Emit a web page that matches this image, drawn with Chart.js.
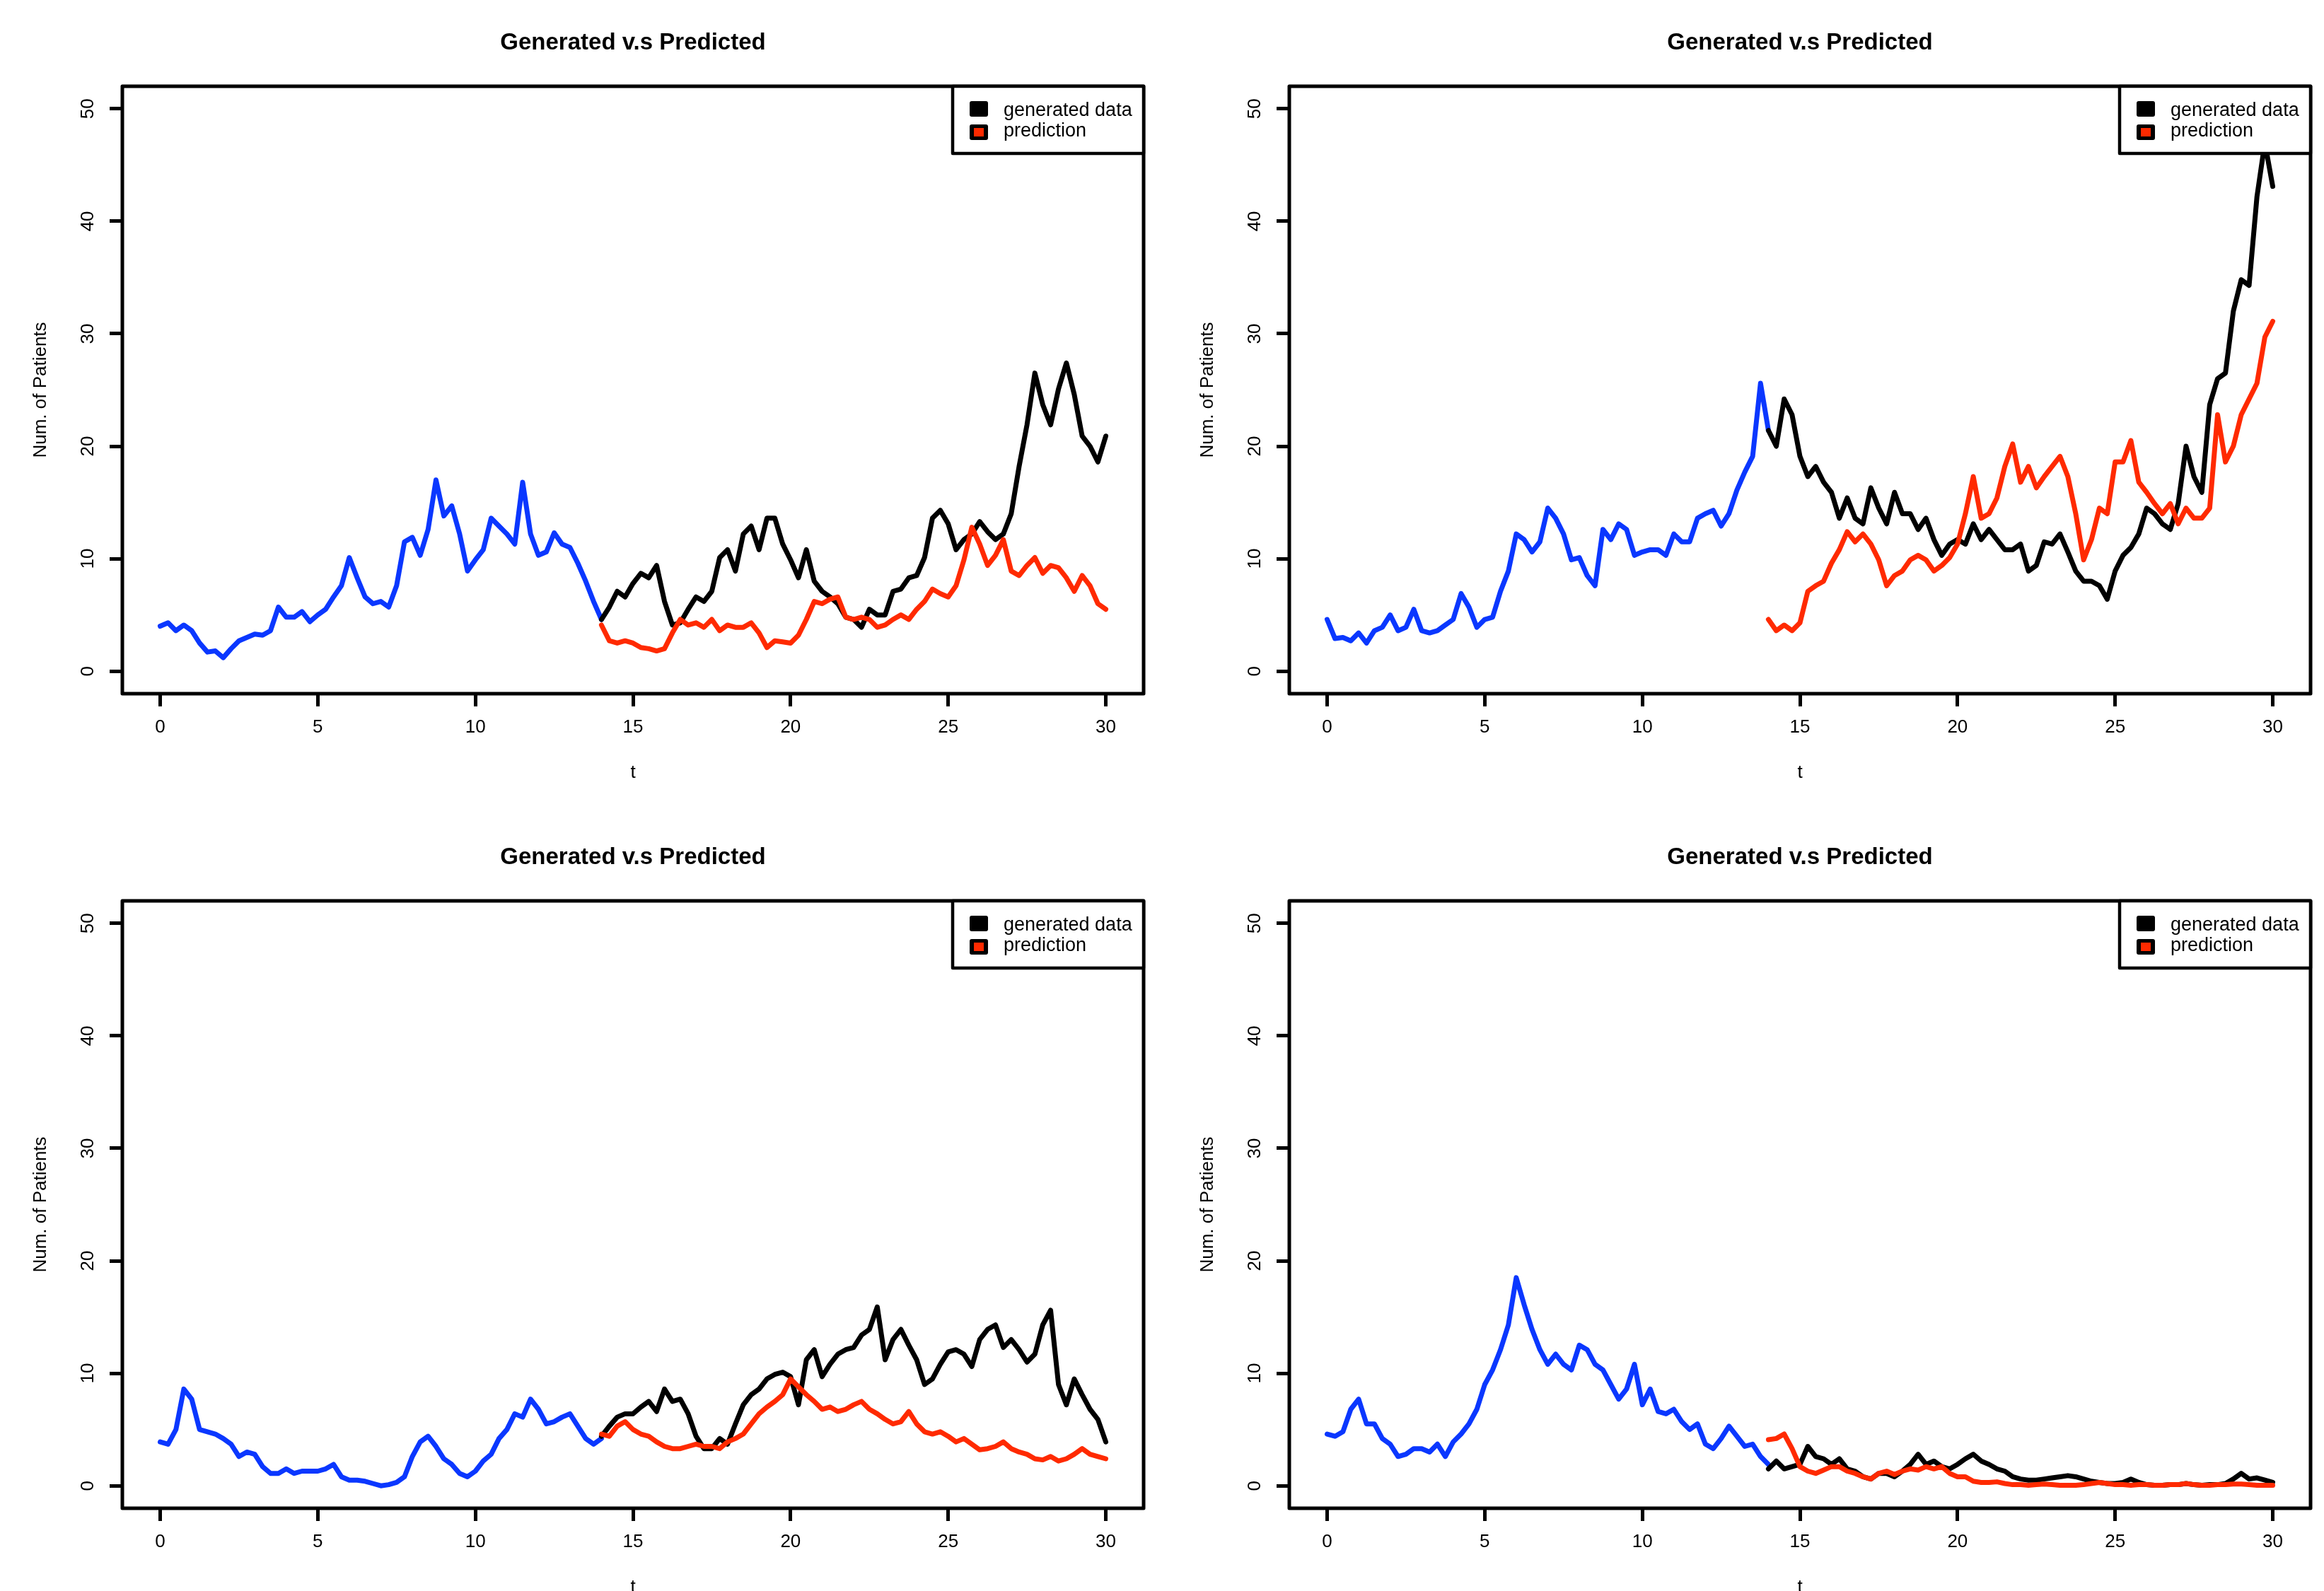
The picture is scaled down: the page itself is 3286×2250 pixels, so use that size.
<!DOCTYPE html>
<html>
<head>
<meta charset="utf-8">
<title>Generated v.s Predicted</title>
<script src="https://cdn.jsdelivr.net/npm/chart.js@4.4.1/dist/chart.umd.min.js"></script>
<style>
    html, body { margin: 0; padding: 0; background: #fff; overflow: hidden; }
    #page { position: relative; width: 3286px; height: 2250px; overflow: hidden; background: #fff; }
    .panel { position: absolute; width: 1650px; height: 1152px; }
</style>
</head>
<body>
<div id="page">
    <div class="panel" style="left:0;top:0"><canvas id="chart1" width="1650" height="1152"></canvas></div>
    <div class="panel" style="left:1650px;top:0"><canvas id="chart2" width="1650" height="1152"></canvas></div>
    <div class="panel" style="left:0;top:1152px"><canvas id="chart3" width="1650" height="1152"></canvas></div>
    <div class="panel" style="left:1650px;top:1152px"><canvas id="chart4" width="1650" height="1152"></canvas></div>
</div>
<script>
const X_TICKS = [0, 5, 10, 15, 20, 25, 30];
const Y_TICKS = [0, 10, 20, 30, 40, 50];

// observed part (t = 0..14) and forecast part (t = 14..30)
const T_OBS = [0, 0.25, 0.5, 0.75, 1, 1.25, 1.5, 1.75, 2, 2.25, 2.5, 2.75, 3, 3.25, 3.5, 3.75,
    4, 4.25, 4.5, 4.75, 5, 5.25, 5.5, 5.75, 6, 6.25, 6.5, 6.75, 7, 7.25, 7.5, 7.75,
    8, 8.25, 8.5, 8.75, 9, 9.25, 9.5, 9.75, 10, 10.25, 10.5, 10.75, 11, 11.25, 11.5, 11.75,
    12, 12.25, 12.5, 12.75, 13, 13.25, 13.5, 13.75, 14];
const T_PRED = [14, 14.25, 14.5, 14.75, 15, 15.25, 15.5, 15.75, 16, 16.25, 16.5, 16.75,
    17, 17.25, 17.5, 17.75, 18, 18.25, 18.5, 18.75, 19, 19.25, 19.5, 19.75,
    20, 20.25, 20.5, 20.75, 21, 21.25, 21.5, 21.75, 22, 22.25, 22.5, 22.75,
    23, 23.25, 23.5, 23.75, 24, 24.25, 24.5, 24.75, 25, 25.25, 25.5, 25.75,
    26, 26.25, 26.5, 26.75, 27, 27.25, 27.5, 27.75, 28, 28.25, 28.5, 28.75,
    29, 29.25, 29.5, 29.75, 30];

const p1Obs = [4.0, 4.3, 3.6, 4.1, 3.6, 2.5, 1.7, 1.8, 1.2, 2.0, 2.7, 3.0, 3.3, 3.2, 3.6, 5.7,
    4.8, 4.8, 5.3, 4.4, 5.0, 5.5, 6.6, 7.6, 10.1, 8.3, 6.6, 6.0, 6.2, 5.7, 7.6, 11.5,
    11.9, 10.3, 12.6, 17.0, 13.8, 14.7, 12.2, 8.9, 9.9, 10.8, 13.6, 12.9, 12.2, 11.3, 16.8, 12.2,
    10.3, 10.6, 12.3, 11.3, 11.0, 9.6, 8.0, 6.2, 4.6];
const p1Gen = [4.6, 5.7, 7.1, 6.6, 7.8, 8.7, 8.3, 9.4, 6.2, 4.1, 4.3, 5.5, 6.6, 6.2, 7.1, 10.1,
    10.8, 8.9, 12.2, 12.9, 10.8, 13.6, 13.6, 11.3, 9.9, 8.3, 10.8, 8.0, 7.1, 6.6, 6.0, 4.8,
    4.6, 3.9, 5.5, 5.0, 5.0, 7.1, 7.3, 8.3, 8.5, 10.1, 13.6, 14.3, 13.1, 10.8, 11.7, 12.2,
    13.3, 12.4, 11.7, 12.2, 14.0, 18.2, 21.9, 26.5, 23.7, 21.9, 25.1, 27.4, 24.6, 20.9, 20.0, 18.6, 20.9];
const p1Pred = [4.1, 2.7, 2.5, 2.7, 2.5, 2.1, 2.0, 1.8, 2.0, 3.4, 4.6, 4.1, 4.3, 3.9, 4.6, 3.6,
    4.1, 3.9, 3.9, 4.3, 3.4, 2.1, 2.7, 2.6, 2.5, 3.2, 4.6, 6.2, 6.0, 6.4, 6.6, 4.8,
    4.6, 4.8, 4.6, 3.9, 4.1, 4.6, 5.0, 4.6, 5.5, 6.2, 7.3, 6.9, 6.6, 7.6, 9.9, 12.8,
    11.3, 9.4, 10.3, 11.7, 8.9, 8.5, 9.4, 10.1, 8.7, 9.4, 9.2, 8.3, 7.1, 8.5, 7.6, 6.0, 5.5];

const p2Obs = [4.6, 2.9, 3.0, 2.7, 3.4, 2.5, 3.6, 3.9, 5.0, 3.6, 3.9, 5.5, 3.6, 3.4, 3.6, 4.1,
    4.6, 6.9, 5.7, 3.9, 4.6, 4.8, 7.1, 8.9, 12.2, 11.7, 10.6, 11.5, 14.5, 13.6, 12.2, 9.9,
    10.1, 8.5, 7.6, 12.6, 11.7, 13.1, 12.6, 10.3, 10.6, 10.8, 10.8, 10.3, 12.2, 11.5, 11.5, 13.6,
    14.0, 14.3, 12.9, 14.0, 16.1, 17.7, 19.1, 25.6, 21.4];
const p2Gen = [21.4, 20.0, 24.2, 22.8, 19.1, 17.3, 18.2, 16.8, 15.9, 13.6, 15.4, 13.6, 13.1, 16.3, 14.5, 13.1,
    15.9, 14.0, 14.0, 12.6, 13.6, 11.7, 10.3, 11.3, 11.7, 11.3, 13.1, 11.7, 12.6, 11.7, 10.8, 10.8,
    11.3, 8.9, 9.4, 11.5, 11.3, 12.2, 10.6, 8.9, 8.0, 8.0, 7.6, 6.4, 8.9, 10.3, 11.0, 12.2,
    14.5, 14.0, 13.1, 12.6, 14.9, 20.0, 17.3, 15.9, 23.7, 26.0, 26.5, 32.0, 34.8, 34.3, 42.2, 47.0, 43.1];
const p2Pred = [4.6, 3.6, 4.1, 3.6, 4.3, 7.1, 7.6, 8.0, 9.6, 10.8, 12.4, 11.5, 12.2, 11.3, 9.9, 7.6,
    8.5, 8.9, 9.9, 10.3, 9.9, 8.9, 9.4, 10.1, 11.3, 14.0, 17.3, 13.6, 14.0, 15.4, 18.2, 20.2,
    16.8, 18.2, 16.3, 17.3, 18.2, 19.1, 17.3, 14.0, 9.9, 11.7, 14.5, 14.0, 18.6, 18.6, 20.5, 16.8,
    15.9, 14.9, 14.0, 14.9, 13.1, 14.5, 13.6, 13.6, 14.5, 22.8, 18.6, 20.0, 22.8, 24.2, 25.6, 29.7, 31.1];

const p3Obs = [3.9, 3.7, 5.0, 8.6, 7.7, 5.0, 4.8, 4.6, 4.2, 3.7, 2.6, 3.0, 2.8, 1.7, 1.1, 1.1,
    1.5, 1.1, 1.3, 1.3, 1.3, 1.5, 1.9, 0.8, 0.5, 0.5, 0.4, 0.2, 0.0, 0.1, 0.3, 0.8,
    2.6, 3.9, 4.4, 3.5, 2.4, 1.9, 1.1, 0.8, 1.3, 2.2, 2.8, 4.2, 5.0, 6.4, 6.1, 7.7,
    6.8, 5.5, 5.7, 6.1, 6.4, 5.3, 4.2, 3.7, 4.2];
const p3Gen = [4.4, 5.3, 6.1, 6.4, 6.4, 7.0, 7.5, 6.6, 8.6, 7.5, 7.7, 6.4, 4.4, 3.3, 3.3, 4.2,
    3.7, 5.5, 7.2, 8.1, 8.6, 9.5, 9.9, 10.1, 9.7, 7.2, 11.2, 12.1, 9.7, 10.8, 11.7, 12.1,
    12.3, 13.4, 13.9, 15.9, 11.2, 13.0, 13.9, 12.5, 11.2, 9.0, 9.5, 10.8, 11.9, 12.1, 11.7, 10.6,
    13.0, 13.9, 14.3, 12.3, 13.0, 12.1, 11.0, 11.7, 14.3, 15.6, 9.0, 7.2, 9.5, 8.1, 6.8, 5.9, 3.9];
const p3Pred = [4.6, 4.4, 5.3, 5.7, 5.0, 4.6, 4.4, 3.9, 3.5, 3.3, 3.3, 3.5, 3.7, 3.5, 3.5, 3.3,
    3.9, 4.2, 4.6, 5.5, 6.4, 7.0, 7.5, 8.1, 9.5, 8.8, 8.1, 7.5, 6.8, 7.0, 6.6, 6.8,
    7.2, 7.5, 6.8, 6.4, 5.9, 5.5, 5.7, 6.6, 5.5, 4.8, 4.6, 4.8, 4.4, 3.9, 4.2, 3.7,
    3.2, 3.3, 3.5, 3.9, 3.3, 3.0, 2.8, 2.4, 2.3, 2.6, 2.2, 2.4, 2.8, 3.3, 2.8, 2.6, 2.4];

const p4Obs = [4.6, 4.4, 4.8, 6.8, 7.7, 5.5, 5.5, 4.2, 3.7, 2.6, 2.8, 3.3, 3.3, 3.0, 3.7, 2.6,
    3.9, 4.6, 5.5, 6.8, 9.0, 10.3, 12.1, 14.3, 18.5, 16.1, 13.9, 12.1, 10.8, 11.7, 10.8, 10.3,
    12.5, 12.1, 10.8, 10.3, 9.0, 7.7, 8.6, 10.8, 7.2, 8.6, 6.6, 6.4, 6.8, 5.7, 5.0, 5.5,
    3.7, 3.3, 4.2, 5.3, 4.4, 3.5, 3.7, 2.6, 1.9];
const p4Gen = [1.5, 2.2, 1.5, 1.7, 1.9, 3.5, 2.6, 2.4, 1.9, 2.4, 1.5, 1.3, 0.8, 0.6, 1.1, 1.1,
    0.8, 1.3, 1.9, 2.8, 1.9, 2.2, 1.7, 1.5, 1.9, 2.4, 2.8, 2.2, 1.9, 1.5, 1.3, 0.8,
    0.6, 0.5, 0.5, 0.6, 0.7, 0.8, 0.9, 0.8, 0.6, 0.4, 0.3, 0.2, 0.2, 0.3, 0.6, 0.3,
    0.1, 0.05, 0.05, 0.1, 0.1, 0.2, 0.1, 0.05, 0.1, 0.1, 0.2, 0.6, 1.1, 0.6, 0.7, 0.5, 0.3];
const p4Pred = [4.1, 4.2, 4.6, 3.3, 1.7, 1.3, 1.1, 1.4, 1.7, 1.7, 1.3, 1.1, 0.8, 0.6, 1.1, 1.3,
    1.0, 1.3, 1.5, 1.4, 1.7, 1.5, 1.7, 1.1, 0.8, 0.8, 0.4, 0.3, 0.3, 0.35, 0.2, 0.1,
    0.1, 0.05, 0.1, 0.15, 0.1, 0.05, 0.05, 0.05, 0.1, 0.2, 0.3, 0.2, 0.1, 0.1, 0.05, 0.1,
    0.1, 0.05, 0.05, 0.1, 0.1, 0.2, 0.1, 0.05, 0.05, 0.1, 0.1, 0.15, 0.15, 0.1, 0.05, 0.05, 0.05];

const BLUE = '#0a37ff';
const RED = '#ff2a00';
const FONT = '"Liberation Sans", Arial, Helvetica, sans-serif';

function points(ts, ys) {
    return ts.map((t, i) => ({ x: t, y: ys[i] }));
}

// R style frame, main title and boxed legend
const rFrame = {
    id: 'rFrame',
    afterDraw(chart, args, opts) {
        const { ctx, chartArea: a } = chart;
        ctx.save();
        ctx.strokeStyle = '#000';
        ctx.lineWidth = 5;
        ctx.lineJoin = 'round';
        ctx.strokeRect(a.left, a.top, a.right - a.left, a.bottom - a.top);

        ctx.fillStyle = '#000';
        ctx.font = 'bold 33px ' + FONT;
        ctx.textAlign = 'center';
        ctx.textBaseline = 'alphabetic';
        ctx.fillText(opts.title, (a.left + a.right) / 2, 70);

        const lw = 270, lh = 95;
        const lx = a.right - lw, ly = a.top;
        ctx.fillStyle = '#fff';
        ctx.fillRect(lx, ly, lw, lh);
        ctx.lineWidth = 4.5;
        ctx.strokeRect(lx, ly, lw, lh);

        const entries = chart.data.datasets
            .filter(ds => ds.legendRow !== undefined)
            .sort((p, q) => p.legendRow - q.legendRow);
        ctx.font = '27px ' + FONT;
        ctx.textAlign = 'left';
        entries.forEach((ds, i) => {
            const sy = ly + 21 + i * 33;
            ctx.fillStyle = '#000';
            ctx.beginPath();
            ctx.roundRect(lx + 24, sy, 26, 22, 3);
            ctx.fill();
            ctx.fillStyle = ds.borderColor;
            ctx.fillRect(lx + 30, sy + 5, 14, 12);
            ctx.fillStyle = '#000';
            ctx.fillText(ds.label, lx + 72, ly + 42 + i * 29);
        });
        ctx.restore();
    }
};

function makePanel(canvasId, obs, gen, pred) {
    const ctx = document.getElementById(canvasId).getContext('2d');
    const line = (label, data, color, order, legendRow) => ({
        label: label,
        data: data,
        borderColor: color,
        backgroundColor: color,
        borderWidth: 7,
        pointRadius: 0,
        tension: 0,
        borderJoinStyle: 'round',
        borderCapStyle: 'round',
        order: order,
        legendRow: legendRow
    });

    new Chart(ctx, {
        type: 'line',
        data: {
            datasets: [
                line('prediction', points(T_PRED, pred), RED, 0, 1),
                line('generated data', points(T_PRED, gen), '#000', 1, 0),
                line('observed', points(T_OBS, obs), BLUE, 2, undefined)
            ]
        },
        options: {
            responsive: false,
            animation: false,
            devicePixelRatio: 1,
            layout: { padding: { top: 122, right: 33, left: 0, bottom: 0 } },
            plugins: {
                legend: { display: false },
                tooltip: { enabled: false },
                rFrame: { title: 'Generated v.s Predicted' }
            },
            scales: {
                x: {
                    type: 'linear',
                    position: 'bottom',
                    min: -1.2,
                    max: 31.2,
                    afterBuildTicks: s => { s.ticks = X_TICKS.map(v => ({ value: v })); },
                    afterFit: s => { s.height = 171; },
                    ticks: { color: '#000', font: { family: FONT, size: 26 }, padding: 14, maxRotation: 0, autoSkip: false },
                    grid: { drawOnChartArea: false, drawTicks: true, tickLength: 18, lineWidth: 5, color: '#000' },
                    border: { display: false },
                    title: { display: true, text: 't', color: '#000', font: { family: FONT, size: 26 }, padding: { top: 0, bottom: 44 } }
                },
                y: {
                    type: 'linear',
                    position: 'left',
                    min: -2,
                    max: 52,
                    afterBuildTicks: s => { s.ticks = Y_TICKS.map(v => ({ value: v })); },
                    afterFit: s => { s.width = 173; },
                    ticks: { color: '#000', font: { family: FONT, size: 26 }, padding: 16, minRotation: 90, maxRotation: 90, crossAlign: 'center', autoSkip: false },
                    grid: { drawOnChartArea: false, drawTicks: true, tickLength: 18, lineWidth: 5, color: '#000' },
                    border: { display: false },
                    title: { display: true, text: 'Num. of Patients', color: '#000', font: { family: FONT, size: 26 }, padding: { top: 42, bottom: 0 } }
                }
            }
        },
        plugins: [rFrame]
    });
}

makePanel('chart1', p1Obs, p1Gen, p1Pred);
makePanel('chart2', p2Obs, p2Gen, p2Pred);
makePanel('chart3', p3Obs, p3Gen, p3Pred);
makePanel('chart4', p4Obs, p4Gen, p4Pred);
</script>
</body>
</html>
